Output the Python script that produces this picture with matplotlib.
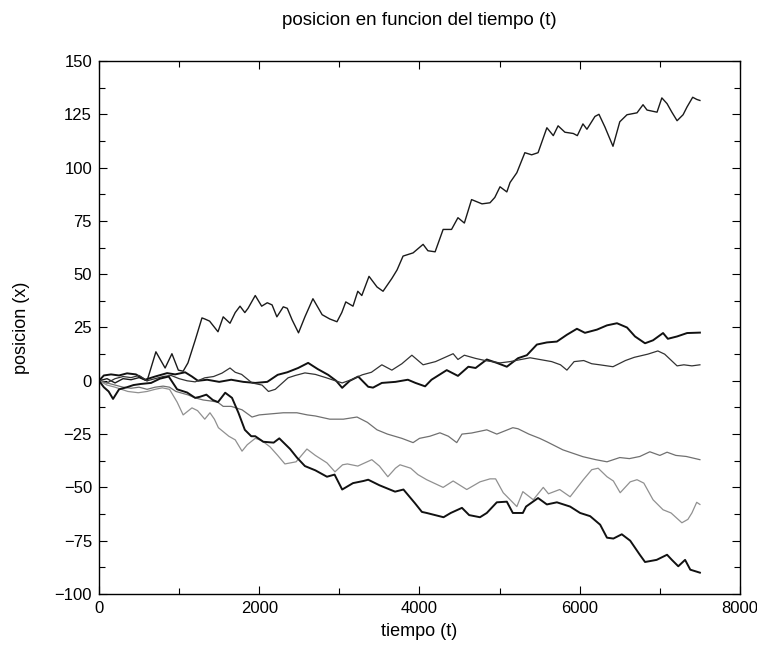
import matplotlib
matplotlib.use("Agg")
import matplotlib.pyplot as plt
from matplotlib.ticker import MultipleLocator

plt.rcParams['font.family'] = ['Liberation Sans', 'DejaVu Sans']

# six random walks (t, x)
t_a = [0, 100, 200, 300, 400, 500, 600, 710, 825, 910, 990, 1050, 1110, 1200, 1285, 1320, 1380,
       1485, 1550, 1635, 1700, 1760, 1820, 1860, 1950, 2030, 2100, 2160, 2220, 2300, 2350, 2410,
       2490, 2570, 2670, 2785, 2880, 2970, 3030, 3080, 3170, 3230, 3280, 3370, 3470, 3545, 3655,
       3720, 3795, 3920, 4045, 4105, 4195, 4295, 4400, 4480, 4560, 4650, 4780, 4880, 4940, 5005,
       5090, 5130, 5215, 5315, 5400, 5480, 5590, 5670, 5730, 5815, 5920, 5970, 6040, 6090, 6190,
       6240, 6315, 6415, 6500, 6590, 6715, 6790, 6840, 6965, 7025, 7090, 7150, 7215, 7290, 7340,
       7410, 7460, 7500]
x_a = [0, 1, -1, 1, 0.5, 1.5, 0, 13.6, 6, 12.7, 5, 4.5, 8.4, 19, 29.5, 29, 28,
       23, 30, 27, 32, 35, 32, 34, 40, 35, 36.6, 35.6, 30, 34.7, 34, 28.6,
       22.5, 30, 38.5, 31, 29, 27.7, 32, 37, 35, 42, 40, 49, 44, 42, 48,
       52, 58.5, 60, 64, 61, 60.5, 71, 71, 76.5, 74, 85, 83, 83.5, 86, 91,
       88.6, 93, 97.6, 107, 106, 107, 118.7, 115, 119.6, 116.6, 116, 115, 120.5, 118, 124,
       125, 119, 110, 121.5, 124.8, 125.7, 129.5, 127, 126, 132.7, 130, 126, 122, 124.8, 128.5,
       133, 132, 131.5]

t_b = [0, 60, 150, 250, 350, 460, 575, 700, 850, 950, 1075, 1160, 1235, 1350, 1500, 1650, 1800,
       1950, 2100, 2230, 2350, 2485, 2610, 2730, 2860, 2960, 3035, 3130, 3235, 3360, 3420, 3530,
       3700, 3855, 3950, 4070, 4150, 4340, 4480, 4610, 4700, 4840, 4965, 5090, 5230, 5340, 5465,
       5590, 5715, 5840, 5965, 6065, 6215, 6340, 6465, 6590, 6690, 6815, 6915, 7040, 7100, 7215,
       7340, 7500]
x_b = [0, 2.5, 3, 2.5, 3.5, 3, 0.5, 2, 3.6, 3, 4, 2, 0, 0.5, -0.5, 0.5, -0.5,
       -1, -0.5, 2.8, 4, 6, 8.4, 5.5, 2.8, 0, -3.3, 0, 2, -2.8, -3.2, -1,
       -0.5, 0.5, -1, -2.6, 0.5, 5, 2.3, 6.6, 6, 10, 8.4, 6.6, 10.6, 12, 17,
       18, 18.4, 21.6, 24.4, 22.5, 24, 26, 27, 25, 20.8, 17.6, 19, 22.4, 19.7, 20.8,
       22.4, 22.6]

t_c = [0, 100, 200, 300, 400, 500, 600, 700, 800, 900, 1000, 1100, 1200, 1320, 1430, 1535, 1635,
       1700, 1780, 1910, 2035, 2115, 2200, 2360, 2450, 2570, 2700, 2830, 2950, 3035, 3150, 3285,
       3400, 3530, 3655, 3780, 3905, 4045, 4200, 4420, 4480, 4560, 4700, 4820, 5005, 5130, 5380,
       5500, 5650, 5760, 5840, 5930, 6050, 6150, 6250, 6415, 6570, 6680, 6850, 6975, 7060, 7215,
       7300, 7400, 7500]
x_c = [0, -1, 1, 2, 1.5, 2.5, 0, 1, 2, 2.5, 1, 0, -0.5, 1.4, 2, 3.6, 6,
       4, 3, -1, -2, -5, -4, 1.4, 2.5, 3.7, 3, 1.5, 0, -1, 0.5, 2.8,
       4, 7.5, 5, 8, 12, 7.5, 9, 12.7, 10, 12, 10.5, 9.5, 8.4, 9, 10.8,
       10, 9, 7.5, 5, 9, 9.5, 8, 7.5, 6.6, 9.5, 11, 12.5, 14, 12.5, 7,
       7.5, 7, 7.5]

t_d = [0, 100, 200, 300, 400, 500, 600, 700, 800, 880, 960, 1110, 1200, 1300, 1400, 1480, 1550,
       1650, 1785, 1910, 2000, 2150, 2300, 2470, 2600, 2700, 2880, 3050, 3220, 3350, 3470, 3600,
       3780, 3920, 4000, 4130, 4255, 4360, 4465, 4530, 4650, 4840, 4965, 5165, 5230, 5365, 5500,
       5590, 5790, 6040, 6200, 6340, 6500, 6620, 6750, 6875, 7000, 7090, 7200, 7330, 7500]
x_d = [0, -1, -2, -3, -3.5, -3, -4, -3, -2.5, -3, -5, -6.6, -8, -9, -9.5, -10, -12,
       -12, -13.6, -17, -16, -15.5, -15, -15, -16, -16.5, -18, -18, -17, -19.5, -23, -25,
       -27, -29, -27, -26, -24.4, -26, -29, -25, -24.5, -23, -25, -22, -22.5, -25, -27,
       -28.6, -32.4, -35.6, -37, -38, -36, -36.5, -35.5, -33.3, -35, -33.5, -35, -35.5, -37]

t_e = [0, 100, 200, 360, 490, 600, 700, 790, 880, 975, 1050, 1160, 1230, 1320, 1385, 1440, 1490,
       1620, 1700, 1785, 1850, 1950, 2030, 2135, 2230, 2320, 2460, 2595, 2700, 2845, 2945, 3040,
       3100, 3230, 3405, 3500, 3605, 3700, 3757, 3890, 3980, 4090, 4295, 4420, 4590, 4755, 4880,
       4950, 5045, 5215, 5290, 5420, 5545, 5610, 5750, 5880, 6045, 6150, 6230, 6340, 6420, 6505,
       6630, 6715, 6800, 6915, 7040, 7140, 7275, 7350, 7400, 7460, 7500]
x_e = [0, -2, -3, -5, -5.6, -5, -4, -3.3, -4, -10, -16, -12.7, -14, -18, -15, -18, -22,
       -26, -27.7, -33, -30, -27, -28, -31, -35, -39, -38, -32, -35, -38.5, -42.7, -39.4,
       -39, -40, -37, -40, -45, -41, -39.4, -41, -44, -46.4, -50, -47, -51, -47.4, -46,
       -46, -52.5, -59, -52, -55.8, -50, -53, -51, -54.4, -46.4, -41.7, -41, -45, -47, -52.5,
       -47.4, -46.4, -48, -55.8, -60.5, -62, -66.6, -65, -62, -57, -58]

t_f = [0, 60, 120, 175, 250, 350, 430, 520, 650, 760, 870, 975, 1100, 1200, 1260, 1340, 1420,
       1485, 1575, 1660, 1740, 1820, 1900, 1950, 2050, 2180, 2250, 2385, 2470, 2570, 2700, 2845,
       2940, 3035, 3170, 3300, 3360, 3500, 3695, 3800, 3945, 4030, 4090, 4300, 4390, 4530, 4620,
       4755, 4840, 4965, 5090, 5165, 5290, 5330, 5480, 5590, 5715, 5880, 6005, 6130, 6255, 6340,
       6420, 6525, 6630, 6750, 6815, 6960, 7090, 7150, 7230, 7315, 7380, 7500]
x_f = [0, -3, -5, -8.5, -4, -3, -2, -1.5, -1, 1, 2, -4, -5.5, -8, -7.5, -6.5, -9,
       -10, -5.6, -8, -15, -23, -26, -26, -28.6, -29, -27, -32, -36, -40, -42, -45,
       -44, -51, -48, -47, -46.4, -49, -52, -51, -57.5, -61.5, -62, -64, -62, -59.6, -63,
       -64, -62, -57, -56.7, -62, -62, -59, -55, -58, -57, -59, -62, -63.5, -67.5, -73.6,
       -74, -72, -75, -81.6, -85, -84, -81.6, -84, -87, -84, -88.6, -90]

fig = plt.figure(figsize=(7.57, 6.45), dpi=100)
ax = fig.add_axes([0.1308, 0.0791, 0.8467, 0.8263])

ax.plot(t_a, x_a, color='#1a1a1a', linewidth=1.0)
ax.plot(t_b, x_b, color='#111111', linewidth=1.4)
ax.plot(t_c, x_c, color='#333333', linewidth=0.9)
ax.plot(t_d, x_d, color='#707070', linewidth=0.9)
ax.plot(t_e, x_e, color='#909090', linewidth=0.9)
ax.plot(t_f, x_f, color='#111111', linewidth=1.4)

ax.set_xlim(0, 8000)
ax.set_ylim(-100, 150)
ax.xaxis.set_major_locator(MultipleLocator(2000))
ax.xaxis.set_minor_locator(MultipleLocator(1000))
ax.yaxis.set_major_locator(MultipleLocator(25))
ax.yaxis.set_minor_locator(MultipleLocator(12.5))
ax.tick_params(which='both', direction='in', top=True, right=True, labelsize=12, width=0.8)
ax.tick_params(which='major', length=6, pad=5)
ax.tick_params(which='minor', length=4)
for s in ax.spines.values():
    s.set_linewidth(1.0)

ax.set_title("posicion en funcion del tiempo (t)", fontsize=13.5, pad=26)
ax.set_xlabel("tiempo (t)", fontsize=13, labelpad=5)
ax.set_ylabel("posicion (x)", fontsize=13, labelpad=18)

fig.savefig("out.png", dpi=100)
plt.close(fig)
